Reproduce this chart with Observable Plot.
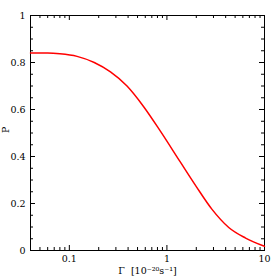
<!DOCTYPE html>
<html>
<head>
<meta charset="utf-8">
<script src="https://cdn.jsdelivr.net/npm/d3@7"></script>
<script src="https://cdn.jsdelivr.net/npm/@observablehq/plot@0.6"></script>
<style>
  html, body { margin: 0; padding: 0; background: #fff; }
</style>
</head>
<body>
<div id="chart"></div>
<script>
const gamma = [0.04, 0.06, 0.08, 0.12, 0.18, 0.264, 0.39, 0.578, 0.857, 1.37, 2.0, 2.9, 4.3, 6.4, 10];
const prob  = [0.84, 0.84, 0.837, 0.826, 0.80, 0.76, 0.70, 0.612, 0.508, 0.377, 0.272, 0.175, 0.098, 0.053, 0.018];
const xMajor = [0.1, 1, 10];
const xMinor = [0.05,0.06,0.07,0.08,0.09,0.2,0.3,0.4,0.5,0.6,0.7,0.8,0.9,2,3,4,5,6,7,8,9];
const yMajor = [0, 0.2, 0.4, 0.6, 0.8, 1];
const yMinor = [0.05,0.1,0.15,0.25,0.3,0.35,0.45,0.5,0.55,0.65,0.7,0.75,0.85,0.9,0.95];
const xLabel = "Γ  [10⁻²⁰s⁻¹]";
const yLabel = "P";

const W = 280, H = 280, mL = 30, mR = 16, mT = 15, mB = 30;
const iw = W - mL - mR, ih = H - mT - mB;
const majL = 5, minL = 3;
const data = gamma.map((g, i) => ({g, p: prob[i]}));

const chart = Plot.plot({
  width: W, height: H,
  marginLeft: mL, marginRight: mR, marginTop: mT, marginBottom: mB,
  style: {fontFamily: "DejaVu Serif", fontSize: "9.5px", color: "#000", background: "#fff"},
  x: {type: "log", domain: [0.04, 10]},
  y: {domain: [0, 1]},
  marks: [
    Plot.frame({stroke: "#000", strokeWidth: 1}),
    Plot.axisX(xMajor, {tickSize: 0, tickPadding: 5, tickFormat: d => String(d), label: null}),
    Plot.axisY(yMajor, {tickSize: 0, tickPadding: 5, tickFormat: d => String(d), label: null}),
    // bottom ticks
    Plot.tickX(xMajor, {x: d => d, insetTop: ih - majL, stroke: "#000"}),
    Plot.tickX(xMinor, {x: d => d, insetTop: ih - minL, stroke: "#000"}),
    // top ticks
    Plot.tickX(xMajor, {x: d => d, insetBottom: ih - majL, stroke: "#000"}),
    Plot.tickX(xMinor, {x: d => d, insetBottom: ih - minL, stroke: "#000"}),
    // left ticks
    Plot.tickY(yMajor, {y: d => d, insetRight: iw - majL, stroke: "#000"}),
    Plot.tickY(yMinor, {y: d => d, insetRight: iw - minL, stroke: "#000"}),
    // right ticks
    Plot.tickY(yMajor, {y: d => d, insetLeft: iw - majL, stroke: "#000"}),
    Plot.tickY(yMinor, {y: d => d, insetLeft: iw - minL, stroke: "#000"}),
    Plot.line(data, {x: "g", y: "p", stroke: "#ff0000", strokeWidth: 1.5, curve: "monotone-x"}),
    Plot.text([xLabel], {frameAnchor: "bottom", dy: 23, text: d => d}),
    Plot.text([yLabel], {frameAnchor: "left", dx: -25, rotate: -90, text: d => d})
  ]
});
document.getElementById("chart").appendChild(chart);
</script>
</body>
</html>
